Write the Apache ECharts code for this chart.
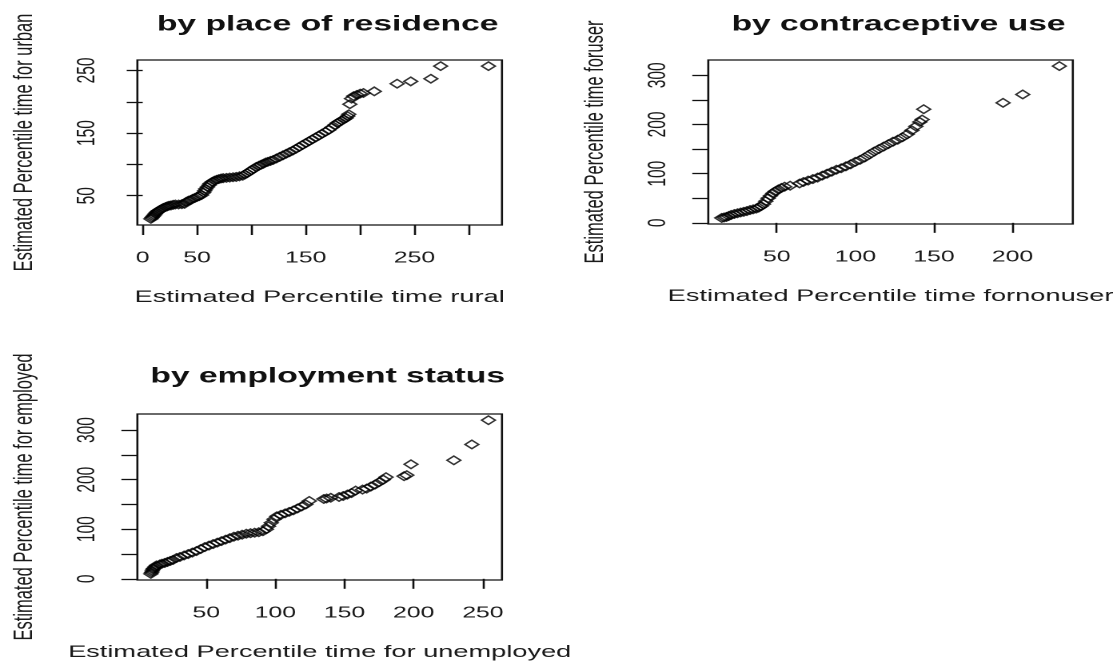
<!DOCTYPE html>
<html>
<head>
<meta charset="utf-8">
<title>Estimated percentile times by subgroup</title>
<script src="https://cdn.jsdelivr.net/npm/echarts@6/dist/echarts.min.js"></script>
<style>
  html, body { margin: 0; padding: 0; background: #fff; }
  #frame { width: 1113px; height: 667px; overflow: hidden; position: relative; }
  /* plots are laid out on a narrower canvas and widened to the page width */
  #chart { width: 696px; height: 667px; transform-origin: 0 0; transform: scaleX(1.5991); }
</style>
</head>
<body>
<div id="frame"><div id="chart"></div></div>
<script>
// ---- Q-Q pairs: [group A percentile time, group B percentile time] ----
const residencePoints = [
  [7.5,13],[8.5,15],[9.5,17],[10.5,19],[11.5,21],[12.5,23],[13.5,24.5],[14.5,26],[16,27.5],[17.5,29],
  [19,30.5],[21,32],[22.5,33],[24,34],[26,34.5],[28,35.5],[30,36],[33,36],[36,36.5],[38.5,37],
  [40,40],[42,42],[44,43],[46,45],[48,46.5],[50,48],[52,49.5],[54,51],[56,55],[57,58],
  [58,61],[59.5,64],[61,67],[62,69.5],[64,72],[66,74],[68,75.5],[70,76.5],[72,77.5],[74,78],
  [77,78.5],[80,79],[83,79.5],[86,80],[89,81],[92,82],[94,84],[96,86],[98,88.5],[100,90.5],
  [102,93],[104.5,96],[107,98],[109,99.5],[111,101],[113,103],[115,104],[117.5,105.5],[120,107],[123,109.5],
  [126,112],[129,114.5],[132,117],[135,119.5],[138,122],[141,125],[144,128],[147,131],[150,134],[153,137],
  [156,140],[159,143],[162,146],[165,149],[168,152],[171,155],[174,159],[177,163],[179,166],[181,168],
  [183,170],[185,172],[187,174],[188.5,177],[189.5,180],[190.5,196],[192,205],[194,209],[197,211],[200,213],
  [203,214],[213,216.6],[234,228.8],[246.5,232.5],[265,236.7],[274,256.9],[318,256.9]
];
const contraceptivePoints = [
  [15,10],[16.5,11],[18,12],[19.5,14],[21,16],[23,18],[25,19.5],[27,21],[29,22.5],[31,24],
  [33,26],[35,27.5],[37,29],[38.5,31],[40,34],[41.5,38],[43,44],[44.5,50],[46,55],[47.5,60],
  [49,64],[51,68],[53,71],[55,73.5],[58.5,75.5],[64.5,80],[67,83],[70,86],[73,89],[76,92],
  [79,96],[82,100],[85,104],[88,108],[91,111],[94,115],[97,119],[100,124],[103,128],[106,133],
  [109,139],[112,145],[115,150],[118,155],[121,160],[124,165],[127,169],[130,174],[133,180],[136,188],
  [138.5,196],[141,205],[142.5,210],[143.5,231],[194,244],[206.5,261],[229.8,318.7]
];
const employmentPoints = [
  [10,10],[10.5,13],[11,16],[11.5,19],[12,21],[13,24],[14,27],[16.5,29],[18,30.5],[20,32],
  [22,34],[24,36],[26,38],[28.5,42],[31,44],[34,47],[37,50],[40,53],[43,56],[46,60],
  [49,64],[52,67],[55,70],[58,73],[61,76],[64,79],[67,82],[70,85],[73,87],[76,89],
  [79,91],[82,92],[85,93],[88,94],[91,96],[93.5,100],[95,106],[97,113],[99,120],[101,126],
  [104,129],[107,132],[110,135],[113,138],[116,142],[119,146],[122,150],[124.5,157],[135,161],[137,162],
  [140,163.5],[146,165],[149,167],[152,170],[155,173],[158,178],[163,180],[166,182],[169,186],[172,190],
  [175,195],[178,200],[180,205],[193,207],[195,209],[198,231],[229,239],[242,271],[254,320]
];

// ---- titles and axis names ----
const panelTitles = ['by place of residence', 'by contraceptive use', 'by employment status'];
const xNames = ['Estimated Percentile time rural', 'Estimated Percentile time fornonuser', 'Estimated Percentile time for unemployed'];
const yNames = ['Estimated Percentile time for urban', 'Estimated Percentile time foruser', 'Estimated Percentile time for employed'];

// ---- tick positions and the labels printed at them ----
const residenceXTicks = [0, 50, 100, 150, 200, 250, 300];
const residenceXLabels = [0, 50, 150, 250];
const residenceYTicks = [50, 100, 150, 200, 250];
const residenceYLabels = [50, 150, 250];
const contraceptiveXTicks = [50, 100, 150, 200];
const contraceptiveXLabels = [50, 100, 150, 200];
const contraceptiveYTicks = [0, 50, 100, 150, 200, 250, 300];
const contraceptiveYLabels = [0, 100, 200, 300];
const employmentXTicks = [50, 100, 150, 200, 250];
const employmentXLabels = [50, 100, 150, 200, 250];
const employmentYTicks = [0, 50, 100, 150, 200, 250, 300];
const employmentYLabels = [0, 100, 200, 300];

const FONT = "'Liberation Sans', Arial, Helvetica, sans-serif";
const INK = '#111';
const TEXT = '#1a1a1a';

// data range widened by 4% on each side, like base R plots
function paddedRange(vals) {
  const lo = Math.min(...vals), hi = Math.max(...vals), pad = (hi - lo) * 0.04;
  return [lo - pad, hi + pad];
}

const panels = [
  { pts: residencePoints, xt: residenceXTicks, xl: residenceXLabels, yt: residenceYTicks, yl: residenceYLabels,
    grid: { left: 85.9, top: 60, width: 228, height: 165 } },
  { pts: contraceptivePoints, xt: contraceptiveXTicks, xl: contraceptiveXLabels, yt: contraceptiveYTicks, yl: contraceptiveYLabels,
    grid: { left: 442.9, top: 60, width: 228, height: 164 } },
  { pts: employmentPoints, xt: employmentXTicks, xl: employmentXLabels, yt: employmentYTicks, yl: employmentYLabels,
    grid: { left: 85.9, top: 414, width: 228, height: 166 } }
];

const grids = [], xAxes = [], yAxes = [], series = [], titles = [];

panels.forEach((p, i) => {
  const [xmin, xmax] = paddedRange(p.pts.map(d => d[0]));
  const [ymin, ymax] = paddedRange(p.pts.map(d => d[1]));

  grids.push(Object.assign({
    show: true, borderColor: INK, borderWidth: 1.3, backgroundColor: 'transparent',
    containLabel: false, outerBoundsMode: 'none'
  }, p.grid));

  titles.push({
    text: panelTitles[i],
    left: p.grid.left + p.grid.width / 2,
    top: p.grid.top - (i === 2 ? 53 : 51),
    textAlign: 'center',
    textStyle: { fontFamily: FONT, fontSize: 21, fontWeight: 'bold', color: '#111' }
  });

  xAxes.push({
    gridIndex: i, type: 'value', min: xmin, max: xmax,
    axisLine: { show: false }, splitLine: { show: false },
    axisTick: { show: true, length: 10, customValues: p.xt, lineStyle: { color: INK, width: 1.3 } },
    axisLabel: { customValues: p.xl, margin: 25, fontFamily: FONT, fontSize: 15.5, color: TEXT },
    name: xNames[i], nameLocation: 'middle', nameGap: 64,
    nameTextStyle: { fontFamily: FONT, fontSize: 17, color: TEXT }
  });

  yAxes.push({
    gridIndex: i, type: 'value', min: ymin, max: ymax,
    axisLine: { show: false }, splitLine: { show: false },
    axisTick: { show: true, length: 10, customValues: p.yt, lineStyle: { color: INK, width: 1.3 } },
    axisLabel: { customValues: p.yl, rotate: 90, margin: 23, fontFamily: FONT, fontSize: 15.5, color: TEXT },
    name: yNames[i], nameLocation: 'middle', nameRotate: 90, nameGap: 62,
    nameTextStyle: { fontFamily: FONT, fontSize: 16.5, color: TEXT }
  });

  series.push({
    type: 'scatter', xAxisIndex: i, yAxisIndex: i,
    data: p.pts,
    symbol: 'diamond', symbolSize: [8.5, 8.5],
    itemStyle: { color: 'rgba(0,0,0,0)', borderColor: '#000', borderWidth: 1.3 },
    silent: true
  });
});

const chart = echarts.init(document.getElementById('chart'), null, { devicePixelRatio: 2 });
chart.setOption({
  animation: false,
  backgroundColor: '#fff',
  title: titles,
  grid: grids,
  xAxis: xAxes,
  yAxis: yAxes,
  series: series
});
</script>
</body>
</html>
